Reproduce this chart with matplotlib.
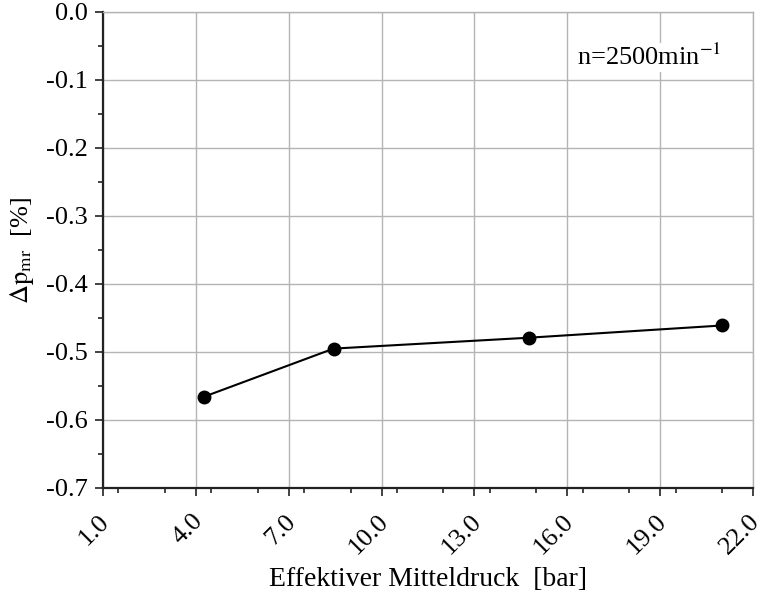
import matplotlib
matplotlib.use("Agg")
import matplotlib.pyplot as plt
import matplotlib.transforms as mtransforms
from matplotlib.ticker import MultipleLocator, FormatStrFormatter

# Measured pressure deviation over effective mean pressure at 2500 rpm
pme_bar = [4.25, 8.45, 14.75, 21.0]
delta_pmr = [-0.566, -0.495, -0.479, -0.461]

x_ticks = [1.0, 4.0, 7.0, 10.0, 13.0, 16.0, 19.0, 22.0]
y_ticks = [-0.7, -0.6, -0.5, -0.4, -0.3, -0.2, -0.1, 0.0]

plt.rcParams["font.family"] = ["Liberation Serif", "DejaVu Serif"]
plt.rcParams["mathtext.fontset"] = "stix"

fig, ax = plt.subplots(figsize=(7.65, 6.01), dpi=100)
fig.subplots_adjust(left=103 / 765, right=753 / 765, top=1 - 12 / 601, bottom=1 - 488 / 601)

ax.plot(pme_bar, delta_pmr, color="black", linewidth=1.5, marker="o", markersize=9, zorder=5, clip_on=False)

ax.set_xlim(x_ticks[0], x_ticks[-1])
ax.set_ylim(y_ticks[0], y_ticks[-1])
ax.set_xticks(x_ticks)
ax.set_yticks(y_ticks)
ax.xaxis.set_minor_locator(MultipleLocator(1.5))
ax.yaxis.set_minor_locator(MultipleLocator(0.05))
ax.xaxis.set_major_formatter(FormatStrFormatter("%.1f"))
ax.yaxis.set_major_formatter(FormatStrFormatter("%.1f"))

ax.grid(True, which="major", color="#b4b4b4", linewidth=1.0)
ax.set_axisbelow(True)
ax.tick_params(which="major", direction="out", length=6, width=1.2, labelsize=19, color="#222222")
ax.tick_params(which="minor", direction="out", length=3.5, width=1.2, color="#222222")
ax.tick_params(axis="y", pad=5)
ax.tick_params(axis="x", pad=10)

# rotated x labels, nudged so their upper end sits just right of the tick
shift = mtransforms.ScaledTranslation(11 / 100, 0, fig.dpi_scale_trans)
for lbl in ax.get_xticklabels():
    lbl.set_rotation(45)
    lbl.set_ha("right")
    lbl.set_va("top")
    lbl.set_transform(lbl.get_transform() + shift)

for side in ("left", "bottom"):
    ax.spines[side].set_color("#222222")
    ax.spines[side].set_linewidth(1.6)
for side in ("top", "right"):
    ax.spines[side].set_color("#b4b4b4")
    ax.spines[side].set_linewidth(1.0)

ax.set_xlabel("Effektiver Mitteldruck  [bar]", fontsize=20, labelpad=6)
ax.set_ylabel(r"$\Delta\mathrm{p}_{\mathrm{mr}}$  [%]", fontsize=19, labelpad=7)

ax.text(0.729, 0.905, r"n=2500min$^{\mathrm{-1}}$", transform=ax.transAxes, fontsize=19,
        ha="left", va="center", bbox=dict(facecolor="white", edgecolor="none", pad=1))

fig.savefig("out.png", dpi=100)
